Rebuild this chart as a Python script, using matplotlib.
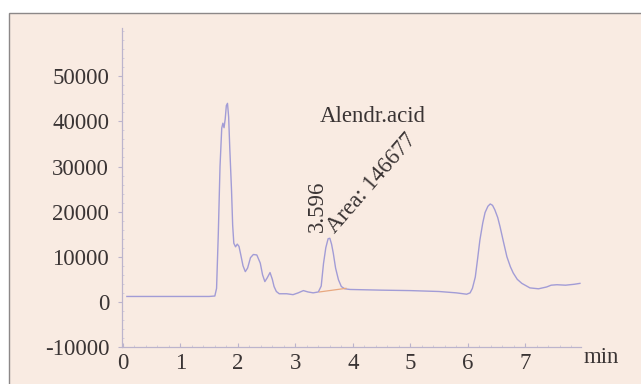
import matplotlib
matplotlib.use("Agg")
import matplotlib.pyplot as plt
from matplotlib.patches import Rectangle

# --- data ---
time_min = [0.07, 0.5, 1.0, 1.5, 1.60, 1.63, 1.66, 1.69, 1.72, 1.74, 1.76, 1.78, 1.80, 1.82,
            1.84, 1.86, 1.89, 1.91, 1.93, 1.96, 1.99, 2.02, 2.05, 2.09, 2.13, 2.17, 2.22,
            2.27, 2.33, 2.39, 2.43, 2.47, 2.51, 2.56, 2.60, 2.63, 2.67, 2.72, 2.85, 2.96,
            3.05, 3.14, 3.22, 3.31, 3.40, 3.45, 3.49, 3.53, 3.57, 3.60, 3.63, 3.66, 3.70,
            3.75, 3.80, 3.86, 3.95, 4.5, 5.0, 5.5, 5.8, 5.98, 6.04, 6.08, 6.13, 6.17, 6.21,
            6.26, 6.30, 6.35, 6.39, 6.43, 6.47, 6.52, 6.56, 6.62, 6.68, 6.74, 6.79, 6.86,
            6.94, 7.08, 7.23, 7.37, 7.45, 7.55, 7.70, 7.85, 7.95]
signal = [1200, 1200, 1200, 1200, 1300, 3000, 15000, 30000, 38500, 39600, 38600, 40500, 43500,
          44000, 41000, 34000, 24800, 17000, 13000, 12200, 12800, 12300, 10500, 8000, 6700,
          7500, 9800, 10500, 10400, 8600, 6000, 4500, 5300, 6500, 5000, 3400, 2300, 1800,
          1800, 1600, 2000, 2500, 2200, 2000, 2200, 3500, 8500, 12000, 14000, 14100, 12800,
          10800, 7500, 4900, 3400, 2900, 2750, 2600, 2500, 2300, 2000, 1700, 2000, 3000,
          5500, 9500, 13700, 17500, 19800, 21200, 21700, 21400, 20400, 18700, 16700, 13300,
          10000, 7800, 6400, 5000, 4100, 3100, 2900, 3300, 3700, 3800, 3700, 3900, 4100]

# integration baseline of the Alendronic acid peak
base_t = [3.42, 3.88]
base_v = [2200, 3000]

x_ticks = [0, 1, 2, 3, 4, 5, 6, 7]
y_ticks = [-10000, 0, 10000, 20000, 30000, 40000, 50000]

peak_name = "Alendr.acid"
peak_rt = "3.596"
peak_area = "Area: 146677"

plt.rcParams['font.family'] = ['Liberation Serif', 'DejaVu Serif']

W, H = 641, 384
fig = plt.figure(figsize=(W / 100, H / 100), dpi=100, facecolor='white')

# scanned paper background with frame
fig.patches.append(Rectangle((8.5 / W, -0.01), 1.0, 1 - 13.3 / H + 0.01,
                             transform=fig.transFigure, facecolor='#f9ebe2',
                             edgecolor='#8c8888', linewidth=1.0, zorder=-10))

ax = fig.add_axes([121.7 / W, (H - 347) / H, (580.5 - 121.7) / W, (347 - 28) / H])
ax.set_facecolor('none')
ax.set_zorder(1)

ax.plot(time_min, signal, color='#a29cd6', linewidth=1.0)
ax.plot(base_t, base_v, color='#e8a880', linewidth=0.9)

ax.set_xlim(-0.02, 7.96)
ax.set_ylim(-10000, 60700)

for s in ['top', 'right']:
    ax.spines[s].set_visible(False)
for s in ['left', 'bottom']:
    ax.spines[s].set_color('#bcb4cc')
    ax.spines[s].set_linewidth(0.9)

ax.set_xticks(x_ticks)
ax.set_yticks(y_ticks)
ax.set_xticklabels([str(v) for v in x_ticks])
ax.set_yticklabels([str(v) for v in y_ticks])
ax.set_xticks([i * 0.2 for i in range(40)], minor=True)
ax.set_yticks([i * 2000 - 10000 for i in range(36)], minor=True)
ax.tick_params(axis='both', which='major', labelsize=16.5, colors='#bcb4cc',
               labelcolor='#3a3434', length=3, width=0.8)
ax.tick_params(axis='x', which='major', direction='in', pad=4)
ax.tick_params(axis='y', which='major', direction='out', pad=6)
ax.tick_params(axis='both', which='minor', length=1.5, width=0.6, colors='#d0c8d8',
               direction='in')

ax.text(4.35, 41000, peak_name, fontsize=16.5, color='#3a3434', ha='center', va='center')
ax.text(3.38, 21100, peak_rt, fontsize=16.5, color='#3a3434', ha='center', va='center',
        rotation=90, rotation_mode='anchor')
ax.text(4.33, 26200, peak_area, fontsize=16.5, color='#3a3434', ha='center', va='center',
        rotation=49, rotation_mode='anchor')
ax.text(8.32, -12400, "min", fontsize=16.5, color='#3a3434', ha='center', va='center',
        clip_on=False)

fig.savefig("out.png", dpi=100, facecolor='white')
